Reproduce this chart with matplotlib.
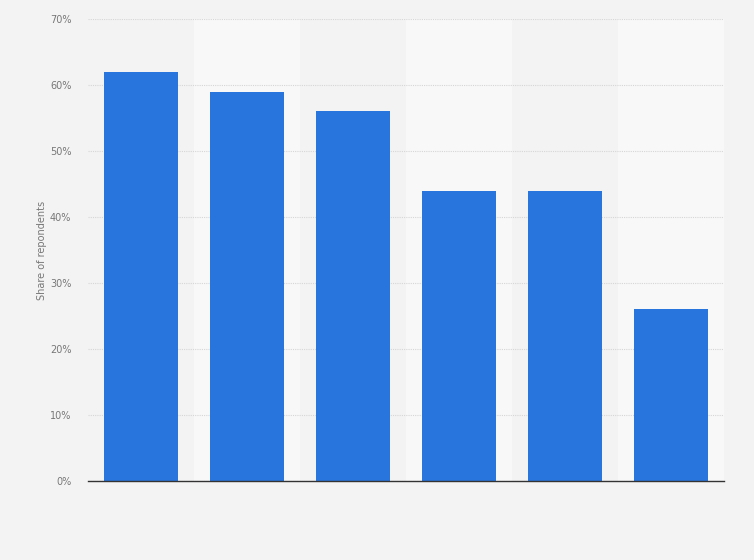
import matplotlib.pyplot as plt
import numpy as np

# bar values (share of respondents, %)
categories = ['A', 'B', 'C', 'D', 'E', 'F']
shares = [62, 59, 56, 44, 44, 26]
y_ticks = [0, 10, 20, 30, 40, 50, 60, 70]
y_tick_labels = ['0%', '10%', '20%', '30%', '40%', '50%', '60%', '70%']

fig = plt.figure(figsize=(7.54, 5.60), dpi=100, facecolor='#f3f3f3')
ax = fig.add_axes([0.1167, 0.1411, 0.8435, 0.825])
ax.set_facecolor('#f3f3f3')

x = np.arange(len(categories))

# lighter bands behind every second column
for i in x:
    if i % 2 == 1:
        ax.axvspan(i - 0.5, i + 0.5, color='#f8f8f8', zorder=0, lw=0)

ax.bar(x, shares, width=0.69, color='#2876dd', zorder=3)

ax.set_xlim(-0.5, len(categories) - 0.5)
ax.set_ylim(0, 70)
ax.set_yticks(y_ticks)
ax.set_yticklabels(y_tick_labels, color='#777777', fontsize=7)
ax.set_xticks([])
ax.tick_params(axis='y', length=0, pad=12)

ax.yaxis.grid(True, color='#d6d6d6', linestyle=(0, (1, 1)), linewidth=0.8, zorder=1)
ax.set_axisbelow(True)

for s in ['top', 'right', 'left']:
    ax.spines[s].set_visible(False)
ax.spines['bottom'].set_color('#333333')
ax.spines['bottom'].set_linewidth(1.0)
ax.spines['bottom'].set_zorder(4)

ax.set_ylabel('Share of repondents', color='#777777', fontsize=7, labelpad=2)

fig.savefig('out.png', dpi=100, facecolor=fig.get_facecolor())
